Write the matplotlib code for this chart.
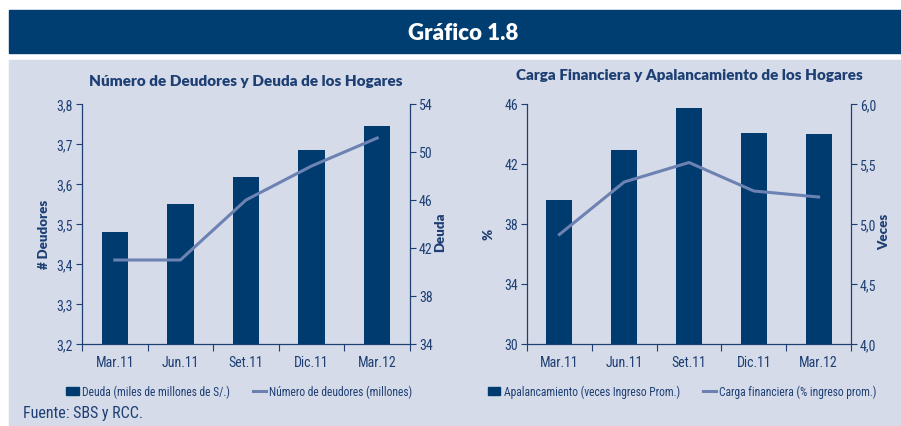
import matplotlib
matplotlib.use('Agg')
import matplotlib.pyplot as plt
from matplotlib import font_manager
from matplotlib.patches import Rectangle
from matplotlib.lines import Line2D
from matplotlib.ticker import FuncFormatter

# data
cats = ['Mar.11', 'Jun.11', 'Set.11', 'Dic.11', 'Mar.12']
deuda = [43.3, 45.7, 47.9, 50.2, 52.2]          # bars, right axis
deudores = [3.41, 3.41, 3.56, 3.645, 3.715]     # line, left axis
apalanc = [5.20, 5.62, 5.97, 5.76, 5.75]        # bars, right axis (veces)
carga = [37.3, 40.8, 42.1, 40.2, 39.8]          # line, left axis (%)

NAVY = '#003B70'
LINE = '#6C82B2'
PANEL = '#D5DBE8'
TXT = '#1E3F74'

names = {f.name for f in font_manager.fontManager.ttflist}
cands = ['Liberation Sans Narrow', 'DejaVu Sans Condensed', 'Roboto Condensed',
         'Open Sans Condensed', 'Liberation Sans']
narrow = [n for n in cands if n in names][:1] or ['DejaVu Sans']
plt.rcParams['font.family'] = narrow + ['DejaVu Sans']
bold_fam = ['Lato', 'DejaVu Sans']

W, H = 901, 427
fig = plt.figure(figsize=(9.01, 4.27), dpi=100)
fig.patch.set_facecolor('white')


def fx(px):
    return px / W


def fy(py):
    return 1 - py / H


fig.patches.append(Rectangle((fx(9), fy(54)), fx(892), (54 - 11) / H,
                             transform=fig.transFigure, color='#003D70', zorder=-5))
fig.patches.append(Rectangle((fx(9), 0), fx(892), (427 - 61) / H,
                             transform=fig.transFigure, color=PANEL, zorder=-5))
fig.text(fx(463), fy(33), 'Gráfico 1.8', color='white', fontsize=16,
         fontweight='heavy', ha='center', va='center', family=bold_fam)

comma = lambda fmt: FuncFormatter(lambda v, p: (fmt % v).replace('.', ','))


def panel(left, right, bars, line, lylim, lyticks, lfmt, rylim, ryticks, rfmt,
          title, title_y, ylab_l, ylab_r, ylab_l_x, ylab_r_x):
    ax = fig.add_axes([fx(left), fy(345), fx(right - left), 240 / H])
    ax2 = ax.twinx()
    x = range(len(cats))
    ax2.bar(x, bars, width=0.4, color=NAVY, zorder=2)
    ax.plot(x, line, color=LINE, lw=2.2, zorder=3)
    ax.set_zorder(ax2.get_zorder() + 1)
    ax.patch.set_visible(False)
    ax2.patch.set_visible(False)
    ax.set_xlim(-0.5, 4.5)
    ax.set_ylim(*lylim)
    ax.set_yticks(lyticks)
    ax.yaxis.set_major_formatter(comma(lfmt))
    ax2.set_ylim(*rylim)
    ax2.set_yticks(ryticks)
    ax2.yaxis.set_major_formatter(comma(rfmt))
    ax.set_xticks([i + 0.5 for i in range(-1, 5)])
    ax.set_xticklabels([])
    ax.set_xticks(list(x), minor=True)
    ax.set_xticklabels(cats, minor=True)
    for a in (ax, ax2):
        a.spines['top'].set_visible(False)
        for s in ('left', 'right', 'bottom'):
            a.spines[s].set_color(TXT)
        a.tick_params(colors=TXT, labelsize=10, which='both')
        a.tick_params(axis='y', length=4, pad=2.5, color=TXT)
    ax.tick_params(axis='x', which='minor', length=0, pad=8)
    ax.tick_params(axis='x', which='major', length=5, color=TXT)
    fig.text(fx((left + right) / 2), fy(title_y), title, color=TXT, fontsize=11,
             fontweight='heavy', ha='center', va='center', family=bold_fam)
    fig.text(fx(ylab_l_x), fy(234), ylab_l, color=TXT, fontsize=9.5, fontweight='heavy',
             rotation=90, ha='center', va='center', family=bold_fam)
    fig.text(fx(ylab_r_x), fy(232), ylab_r, color=TXT, fontsize=9.5, fontweight='heavy',
             rotation=90, ha='center', va='center', family=bold_fam)
    return ax


panel(82, 410, deuda, deudores, (3.2, 3.8), [3.2, 3.3, 3.4, 3.5, 3.6, 3.7, 3.8], '%.1f',
      (34, 54), [34, 38, 42, 46, 50, 54], '%d',
      'Número de Deudores y Deuda de los Hogares', 82, '# Deudores', 'Deuda', 44, 440)
panel(527, 851, apalanc, carga, (30, 46), [30, 34, 38, 42, 46], '%d',
      (4.0, 6.0), [4.0, 4.5, 5.0, 5.5, 6.0], '%.1f',
      'Carga Financiera y Apalancamiento de los Hogares', 75, '%', 'Veces', 488, 884)

h_bar = Rectangle((0, 0), 1, 1, color=NAVY)
h_line = Line2D([], [], color=LINE, lw=2.2)
leg_kw = dict(loc='center', ncol=2, frameon=False, fontsize=8.3, labelcolor=TXT,
              handlelength=1.1, handletextpad=0.3, columnspacing=2.0)
fig.legend([h_bar, h_line], ['Deuda (miles de millones de S/.)', 'Número de deudores (millones)'],
           bbox_to_anchor=(fx(239), fy(392)), **leg_kw)
fig.legend([h_bar, h_line], ['Apalancamiento (veces Ingreso Prom.)', 'Carga financiera (% ingreso prom.)'],
           bbox_to_anchor=(fx(682), fy(392)), **leg_kw)

fig.text(fx(23), fy(414), 'Fuente: SBS y RCC.', color=TXT, fontsize=11.5, ha='left', va='center')

fig.savefig('out.png', dpi=100, facecolor=fig.get_facecolor())
